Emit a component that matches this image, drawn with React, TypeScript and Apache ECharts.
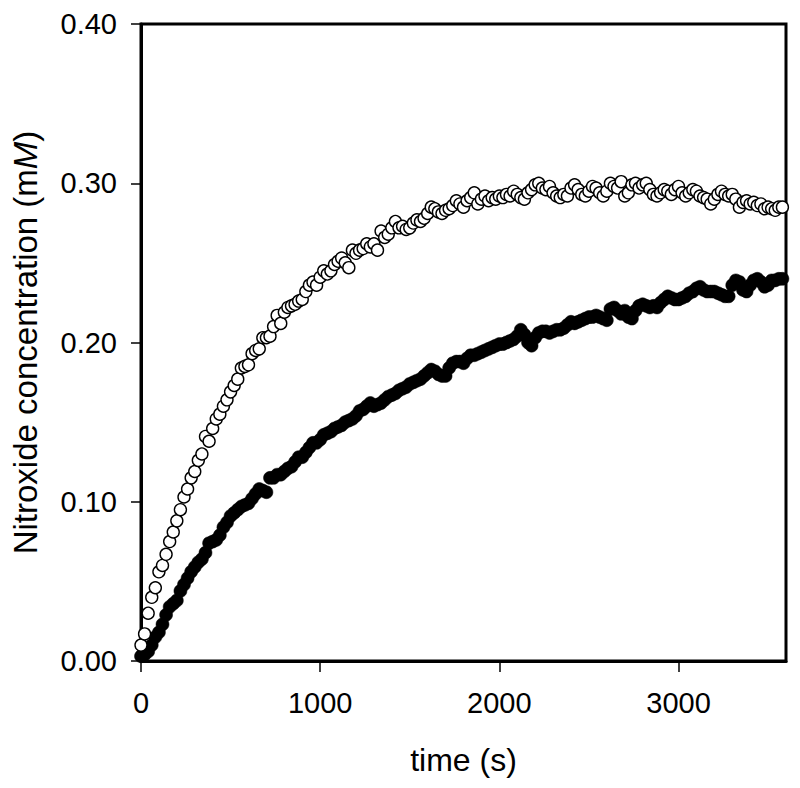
import React, { useEffect, useRef } from "react";
import * as echarts from "echarts";

const TIME_S = [
  0, 20, 40, 60, 80, 100, 120, 140, 160, 180, 200, 220, 240, 260, 280, 300, 320, 340, 360, 380,
  400, 420, 440, 460, 480, 500, 520, 540, 560, 580, 600, 620, 640, 660, 680, 700, 720, 740, 760, 780,
  800, 820, 840, 860, 880, 900, 920, 940, 960, 980, 1000, 1020, 1040, 1060, 1080, 1100, 1120, 1140, 1160, 1180,
  1200, 1220, 1240, 1260, 1280, 1300, 1320, 1340, 1360, 1380, 1400, 1420, 1440, 1460, 1480, 1500, 1520, 1540, 1560, 1580,
  1600, 1620, 1640, 1660, 1680, 1700, 1720, 1740, 1760, 1780, 1800, 1820, 1840, 1860, 1880, 1900, 1920, 1940, 1960, 1980,
  2000, 2020, 2040, 2060, 2080, 2100, 2120, 2140, 2160, 2180, 2200, 2220, 2240, 2260, 2280, 2300, 2320, 2340, 2360, 2380,
  2400, 2420, 2440, 2460, 2480, 2500, 2520, 2540, 2560, 2580, 2600, 2620, 2640, 2660, 2680, 2700, 2720, 2740, 2760, 2780,
  2800, 2820, 2840, 2860, 2880, 2900, 2920, 2940, 2960, 2980, 3000, 3020, 3040, 3060, 3080, 3100, 3120, 3140, 3160, 3180,
  3200, 3220, 3240, 3260, 3280, 3300, 3320, 3340, 3360, 3380, 3400, 3420, 3440, 3460, 3480, 3500, 3520, 3540, 3560, 3580,
];

// open circles
const OPEN_MM = [
  0.010, 0.017, 0.030, 0.040, 0.046, 0.056, 0.060, 0.067, 0.075, 0.081, 0.088, 0.095, 0.103, 0.108, 0.115, 0.119, 0.126, 0.130, 0.141, 0.138,
  0.146, 0.152, 0.155, 0.160, 0.164, 0.169, 0.173, 0.177, 0.184, 0.185, 0.186, 0.193, 0.195, 0.196, 0.203, 0.203, 0.204, 0.210, 0.217, 0.212,
  0.219, 0.222, 0.223, 0.224, 0.226, 0.227, 0.232, 0.236, 0.238, 0.236, 0.241, 0.245, 0.243, 0.245, 0.249, 0.251, 0.253, 0.250, 0.247, 0.258,
  0.256, 0.258, 0.259, 0.262, 0.260, 0.262, 0.258, 0.270, 0.266, 0.268, 0.272, 0.276, 0.272, 0.273, 0.271, 0.272, 0.275, 0.277, 0.276, 0.278,
  0.281, 0.285, 0.284, 0.282, 0.281, 0.283, 0.284, 0.286, 0.289, 0.287, 0.285, 0.289, 0.291, 0.294, 0.287, 0.290, 0.292, 0.289, 0.291, 0.290,
  0.292, 0.291, 0.293, 0.292, 0.295, 0.293, 0.291, 0.290, 0.294, 0.296, 0.299, 0.300, 0.297, 0.296, 0.298, 0.294, 0.292, 0.291, 0.293, 0.292,
  0.297, 0.299, 0.296, 0.293, 0.292, 0.295, 0.298, 0.297, 0.294, 0.292, 0.295, 0.300, 0.298, 0.297, 0.301, 0.292, 0.294, 0.299, 0.300, 0.297,
  0.299, 0.300, 0.296, 0.293, 0.292, 0.294, 0.296, 0.295, 0.293, 0.296, 0.298, 0.294, 0.292, 0.294, 0.296, 0.295, 0.292, 0.291, 0.290, 0.287,
  0.290, 0.293, 0.295, 0.293, 0.292, 0.293, 0.290, 0.285, 0.288, 0.289, 0.287, 0.288, 0.286, 0.287, 0.284, 0.285, 0.284, 0.283, 0.285, 0.285,
];

// filled circles
const FILLED_MM = [
  0.003, 0.004, 0.006, 0.010, 0.015, 0.018, 0.023, 0.029, 0.034, 0.036, 0.038, 0.044, 0.048, 0.052, 0.056, 0.059, 0.062, 0.064, 0.068, 0.074,
  0.075, 0.076, 0.079, 0.084, 0.087, 0.091, 0.093, 0.095, 0.097, 0.098, 0.099, 0.102, 0.105, 0.108, 0.107, 0.106, 0.115, 0.115, 0.117, 0.117,
  0.119, 0.121, 0.122, 0.125, 0.128, 0.128, 0.131, 0.134, 0.137, 0.137, 0.139, 0.142, 0.143, 0.144, 0.146, 0.147, 0.148, 0.150, 0.151, 0.152,
  0.154, 0.157, 0.158, 0.160, 0.162, 0.160, 0.161, 0.162, 0.164, 0.166, 0.167, 0.168, 0.170, 0.171, 0.172, 0.174, 0.175, 0.176, 0.177, 0.179,
  0.181, 0.183, 0.182, 0.180, 0.179, 0.179, 0.184, 0.187, 0.188, 0.188, 0.187, 0.190, 0.192, 0.192, 0.193, 0.194, 0.195, 0.196, 0.197, 0.198,
  0.199, 0.199, 0.200, 0.201, 0.202, 0.204, 0.208, 0.205, 0.200, 0.198, 0.203, 0.206, 0.207, 0.207, 0.206, 0.207, 0.208, 0.208, 0.209, 0.211,
  0.213, 0.212, 0.213, 0.214, 0.215, 0.216, 0.216, 0.217, 0.216, 0.215, 0.214, 0.221, 0.222, 0.220, 0.218, 0.220, 0.216, 0.215, 0.220, 0.223,
  0.224, 0.223, 0.222, 0.223, 0.222, 0.225, 0.227, 0.229, 0.228, 0.227, 0.227, 0.228, 0.229, 0.231, 0.232, 0.234, 0.235, 0.233, 0.232, 0.232,
  0.232, 0.231, 0.230, 0.229, 0.229, 0.236, 0.239, 0.238, 0.233, 0.232, 0.236, 0.239, 0.240, 0.238, 0.235, 0.236, 0.239, 0.239, 0.240, 0.240,
];

const X_TICKS = [0, 1000, 2000, 3000];
const Y_TICKS = [0.0, 0.1, 0.2, 0.3, 0.4];

const FONT = "'Liberation Sans', Arial, Helvetica, sans-serif";

export default function App() {
  const ref = useRef<HTMLDivElement>(null);

  useEffect(() => {
    if (!ref.current) return;
    const chart = echarts.init(ref.current, undefined, { renderer: "svg" });
    const openData = TIME_S.map((t, i) => [t, OPEN_MM[i]]);
    const filledData = TIME_S.map((t, i) => [t, FILLED_MM[i]]);

    chart.setOption({
      animation: false,
      backgroundColor: "#ffffff",
      grid: {
        left: 141,
        top: 24,
        right: 14,
        bottom: 127,
        show: true,
        borderColor: "#000",
        borderWidth: 3,
      },
      xAxis: {
        type: "value",
        min: X_TICKS[0],
        max: 3600,
        interval: 1000,
        name: "time (s)",
        nameLocation: "middle",
        nameGap: 83,
        nameTextStyle: { fontFamily: FONT, fontSize: 32, color: "#000" },
        axisLine: { show: true, onZero: false, lineStyle: { color: "#000", width: 3 } },
        axisTick: { show: true, inside: false, length: 11, lineStyle: { color: "#000", width: 1.5 } },
        axisLabel: {
          show: true,
          margin: 27,
          fontFamily: FONT,
          fontSize: 29,
          color: "#000",
          showMaxLabel: false,
          formatter: (v: number) => (X_TICKS.includes(v) ? String(v) : ""),
        },
        splitLine: { show: false },
      },
      yAxis: {
        type: "value",
        min: Y_TICKS[0],
        max: Y_TICKS[Y_TICKS.length - 1],
        interval: 0.1,
        name: "Nitroxide concentration (m{it|M})",
        nameLocation: "middle",
        nameGap: 99,
        nameTextStyle: {
          fontFamily: FONT,
          fontSize: 33,
          color: "#000",
          rich: { it: { fontFamily: FONT, fontSize: 33, fontStyle: "italic", color: "#000" } },
        },
        axisLine: { show: true, onZero: false, lineStyle: { color: "#000", width: 3 } },
        axisTick: { show: true, inside: false, length: 10, lineStyle: { color: "#000", width: 1.5 } },
        axisLabel: {
          show: true,
          margin: 24,
          fontFamily: FONT,
          fontSize: 29,
          color: "#000",
          formatter: (v: number) => v.toFixed(2),
        },
        splitLine: { show: false },
      },
      series: [
        {
          type: "scatter",
          data: filledData,
          symbol: "circle",
          symbolSize: 13,
          itemStyle: { color: "#000", borderColor: "#000", borderWidth: 0.5, opacity: 1 },
          z: 2,
        },
        {
          type: "scatter",
          data: openData,
          symbol: "circle",
          symbolSize: 12,
          itemStyle: { color: "#fff", borderColor: "#000", borderWidth: 1.4, opacity: 1 },
          z: 3,
        },
      ],
    });

    return () => chart.dispose();
  }, []);

  return (
    <div
      ref={ref}
      style={{ position: "absolute", left: 0, top: 0, width: 800, height: 788 }}
    />
  );
}
